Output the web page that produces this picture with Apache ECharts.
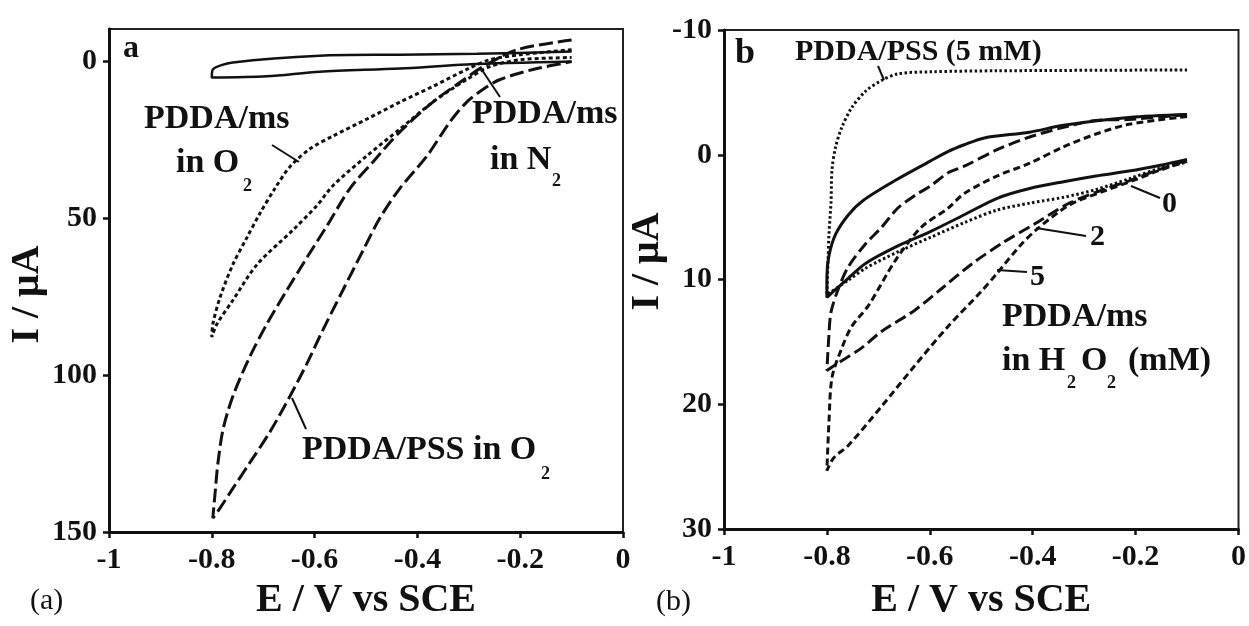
<!DOCTYPE html>
<html>
<head>
<meta charset="utf-8">
<script src="https://cdn.jsdelivr.net/npm/echarts@6/dist/echarts.min.js"></script>
<style>
html,body{margin:0;padding:0;background:#fff;}
#chart{width:1249px;height:626px;}
</style>
</head>
<body>
<div id="chart"></div>
<script>
// ---------- Data ----------
// Panel a : E (V vs SCE) and I (µA)
const xTicks = [-1, -0.8, -0.6, -0.4, -0.2, 0];
const aYTicks = [0, 50, 100, 150];
const bYTicks = [-10, 0, 10, 20, 30];

const aN2_E = [-0.1, -0.284, -0.434, -0.59, -0.759, -0.798, -0.8, -0.693, -0.59, -0.434, -0.304, -0.1];
const aN2_I = [-3.2, -2.5, -2.2, -1.9, 0.3, 2.5, 5.1, 4.7, 3.2, 2.2, 0.9, 0];

const aO2_E = [-0.1, -0.2, -0.259, -0.304, -0.37, -0.434, -0.498, -0.564, -0.609, -0.648, -0.677, -0.706, -0.732, -0.759, -0.784, -0.798, -0.8,
               -0.79, -0.759, -0.712, -0.642, -0.595, -0.564, -0.498, -0.434, -0.37, -0.304, -0.259, -0.2, -0.1];
const aO2_I = [-3.8, -2.2, -0.6, 2.5, 7.9, 12.9, 18.3, 23.7, 27.8, 33.5, 40.4, 48.3, 56.2, 64.7, 75.2, 83.7, 87.8,
               83.7, 76.1, 64.7, 53.7, 45.8, 39.5, 30.0, 21.5, 12.9, 5.7, 1.6, -0.6, -1.3];

const aPSS_E = [-0.1, -0.206, -0.272, -0.317, -0.37, -0.434, -0.486, -0.531, -0.576, -0.615, -0.654, -0.693, -0.726, -0.759, -0.778, -0.788, -0.794, -0.798,
                -0.784, -0.759, -0.726, -0.687, -0.648, -0.615, -0.584, -0.545, -0.506, -0.473, -0.434, -0.381, -0.337, -0.304, -0.272, -0.239, -0.175, -0.1];
const aPSS_I = [-6.9, -3.8, 1.6, 6.6, 12.9, 22.4, 31.9, 40.4, 52.4, 62.5, 72.9, 83.7, 94.1, 106.7, 117.2, 127.9, 138.3, 145.6,
                142.4, 136.1, 127.9, 118.1, 106.7, 96.3, 85.6, 72.9, 60.3, 49.9, 40.4, 30.0, 19.3, 12.9, 8.8, 5.7, 2.5, 0];

// Panel b
const b0_E = [-0.1, -0.213, -0.34, -0.406, -0.494, -0.533, -0.565, -0.6, -0.665, -0.729, -0.758, -0.783, -0.796, -0.8, -0.8,
              -0.79, -0.758, -0.725, -0.662, -0.598, -0.533, -0.469, -0.406, -0.34, -0.277, -0.213, -0.152, -0.1];
const b0_I = [-3.22, -2.98, -2.36, -1.81, -1.35, -0.8, -0.25, 0.53, 2.01, 3.65, 4.81, 6.37, 8.09, 9.73, 11.44,
              11.05, 9.88, 8.71, 7.31, 6.14, 4.81, 3.49, 2.71, 2.16, 1.7, 1.31, 0.84, 0.37];

const b2_E = [-0.1, -0.213, -0.277, -0.34, -0.406, -0.469, -0.533, -0.565, -0.598, -0.629, -0.662, -0.694, -0.725, -0.758, -0.777, -0.792, -0.796, -0.8,
              -0.777, -0.733, -0.694, -0.629, -0.575, -0.517, -0.456, -0.398, -0.329, -0.263, -0.213, -0.152, -0.1];
const b2_I = [-3.22, -2.83, -2.75, -2.2, -1.42, -0.41, 0.92, 1.46, 2.48, 3.26, 4.27, 5.83, 7.15, 8.95, 10.66, 12.61, 14.41, 17.29,
              16.67, 15.5, 14.17, 12.46, 10.66, 8.71, 7.0, 5.59, 3.88, 2.79, 2.09, 1.15, 0.45];

const b5_E = [-0.1, -0.213, -0.277, -0.34, -0.406, -0.469, -0.533, -0.565, -0.617, -0.667, -0.719, -0.752, -0.771, -0.79, -0.796, -0.8,
              -0.787, -0.758, -0.694, -0.629, -0.565, -0.502, -0.469, -0.425, -0.392, -0.329, -0.263, -0.2, -0.152, -0.1];
const b5_I = [-3.06, -2.44, -1.66, -0.64, 0.68, 1.7, 3.1, 4.3, 5.83, 8.48, 12.07, 13.78, 15.5, 17.84, 21.42, 25.32,
              24.31, 23.29, 20.18, 16.9, 13.78, 11.05, 9.49, 7.31, 5.98, 4.04, 2.94, 2.0, 1.23, 0.53];

const bPSS_E = [-0.1, -0.469, -0.598, -0.662, -0.694, -0.725, -0.752, -0.771, -0.783, -0.79, -0.792, -0.796, -0.798, -0.8,
                -0.758, -0.725, -0.662, -0.598, -0.533, -0.469, -0.406, -0.34, -0.277, -0.213, -0.152, -0.1];
const bPSS_I = [-6.8, -6.73, -6.65, -6.49, -5.95, -5.09, -3.76, -2.2, -0.64, 1.15, 3.8, 6.37, 8.71, 11.21,
                10.04, 9.1, 7.78, 6.61, 5.44, 4.43, 3.88, 3.41, 2.79, 1.93, 1.07, 0.6];

// ---------- Chart ----------
const FF = '"Liberation Serif", "Times New Roman", serif';
const INK = '#111';
const zip = (e, i) => e.map((v, k) => [v, i[k]]);

function xAxisOf(g, gap) {
  return {
    type: 'value', gridIndex: g, min: -1, max: 0, interval: 0.2,
    axisLine: { show: true, onZero: false, lineStyle: { color: INK, width: 3 } },
    axisTick: { show: true, length: 6, lineStyle: { color: INK, width: 2.5 } },
    axisLabel: { show: true, showMinLabel: true, showMaxLabel: true, color: INK, fontFamily: FF, fontWeight: 'bold', fontSize: 30, margin: 13,
      formatter: v => (Math.abs(v) < 1e-9 ? '0' : String(+v.toFixed(1))) },
    splitLine: { show: false },
    name: 'E / V vs SCE', nameLocation: 'middle', nameGap: gap,
    nameTextStyle: { color: INK, fontFamily: FF, fontWeight: 'bold', fontSize: 40 }
  };
}
function yAxisOf(g, cfg) {
  const ax = {
    type: 'value', gridIndex: g, inverse: true, min: cfg.min, max: cfg.max,
    axisLine: { show: true, onZero: false, lineStyle: { color: INK, width: 3 } },
    axisTick: { show: true, length: 6, lineStyle: { color: INK, width: 2.5 } },
    axisLabel: { show: true, showMinLabel: true, showMaxLabel: true, color: INK, fontFamily: FF, fontWeight: 'bold', fontSize: 30, margin: 12 },
    splitLine: { show: false },
    name: 'I / μA', nameLocation: 'middle', nameRotate: 90, nameGap: cfg.gap,
    nameTextStyle: { color: INK, fontFamily: FF, fontWeight: 'bold', fontSize: 40, padding: cfg.pad }
  };
  if (cfg.interval) ax.interval = cfg.interval;
  if (cfg.custom) { ax.axisLabel.customValues = cfg.custom; ax.axisTick.customValues = cfg.custom; }
  return ax;
}
function curve(name, g, data, type, width) {
  return {
    name, type: 'line', xAxisIndex: g, yAxisIndex: g, data,
    showSymbol: false, symbol: 'none', smooth: 0.3, clip: false,
    lineStyle: { color: INK, width: width, type: type, cap: 'butt' }, z: 3
  };
}
const T = (x, y, s, size, weight, align) => ({
  type: 'text', x, y, z: 50,
  style: { text: s, font: (weight || 'bold') + ' ' + size + 'px ' + FF, fill: INK,
           textAlign: align || 'left', textVerticalAlign: 'middle', align: align || 'left', verticalAlign: 'middle' }
});
const L = (x1, y1, x2, y2) => ({ type: 'line', z: 50, shape: { x1, y1, x2, y2 }, style: { stroke: INK, lineWidth: 2 } });

const chart = echarts.init(document.getElementById('chart'), null, { renderer: 'canvas' });
chart.setOption({
  animation: false,
  backgroundColor: '#fff',
  grid: [
    { left: 109, top: 29, width: 514, height: 508, show: true, borderColor: '#222', borderWidth: 2, backgroundColor: 'transparent' },
    { left: 724, top: 30, width: 520, height: 513, show: true, borderColor: '#222', borderWidth: 2, backgroundColor: 'transparent' }
  ],
  xAxis: [xAxisOf(0, 49), xAxisOf(1, 52)],
  yAxis: [
    yAxisOf(0, { min: -10.4, max: 150, custom: aYTicks, gap: 58, pad: [0, 28, 0, 0] }),
    yAxisOf(1, { min: -10, max: 30, interval: 10, gap: 56, pad: [0, 0, 0, 36] })
  ],
  series: [
    curve('PDDA/ms in N2', 0, zip(aN2_E, aN2_I), 'solid', 2.5),
    curve('PDDA/ms in O2', 0, zip(aO2_E, aO2_I), [4, 3], 3),
    curve('PDDA/PSS in O2', 0, zip(aPSS_E, aPSS_I), [14, 5], 3),
    curve('0 mM', 1, zip(b0_E, b0_I), 'solid', 3),
    curve('2 mM', 1, zip(b2_E, b2_I), [12, 5], 3),
    curve('5 mM', 1, zip(b5_E, b5_I), [7, 4], 3),
    curve('PDDA/PSS (5 mM)', 1, zip(bPSS_E, bPSS_I), [2.5, 2.5], 3)
  ],
  graphic: [
    // panel a annotations
    T(123, 49, 'a', 32),
    T(144, 119, 'PDDA/ms', 34),
    T(176, 163, 'in O', 34), T(243, 186, '2', 18),
    L(272, 145, 299, 162),
    T(472, 114, 'PDDA/ms', 34),
    T(490, 160, 'in N', 34), T(552, 181, '2', 18),
    L(482, 70, 500, 97),
    T(302, 450, 'PDDA/PSS in O', 34), T(541, 474, '2', 18),
    L(292, 398, 306, 429),
    T(30, 601, '(a)', 30, 'normal'),
    // panel b annotations
    T(735, 54, 'b', 36),
    T(795, 52, 'PDDA/PSS (5 mM)', 30),
    L(878, 66, 884, 80),
    T(1162, 204, '0', 30), L(1131, 186, 1160, 198),
    T(1090, 237, '2', 30), L(1036, 228, 1086, 236),
    T(1030, 277, '5', 30), L(997, 270, 1027, 272),
    T(1002, 317, 'PDDA/ms', 34),
    T(1002, 361, 'in H', 34), T(1067, 383, '2', 18),
    T(1081, 361, 'O', 34), T(1107, 383, '2', 18),
    T(1128, 361, '(mM)', 34),
    T(656, 602, '(b)', 30, 'normal')
  ]
});
</script>
</body>
</html>
